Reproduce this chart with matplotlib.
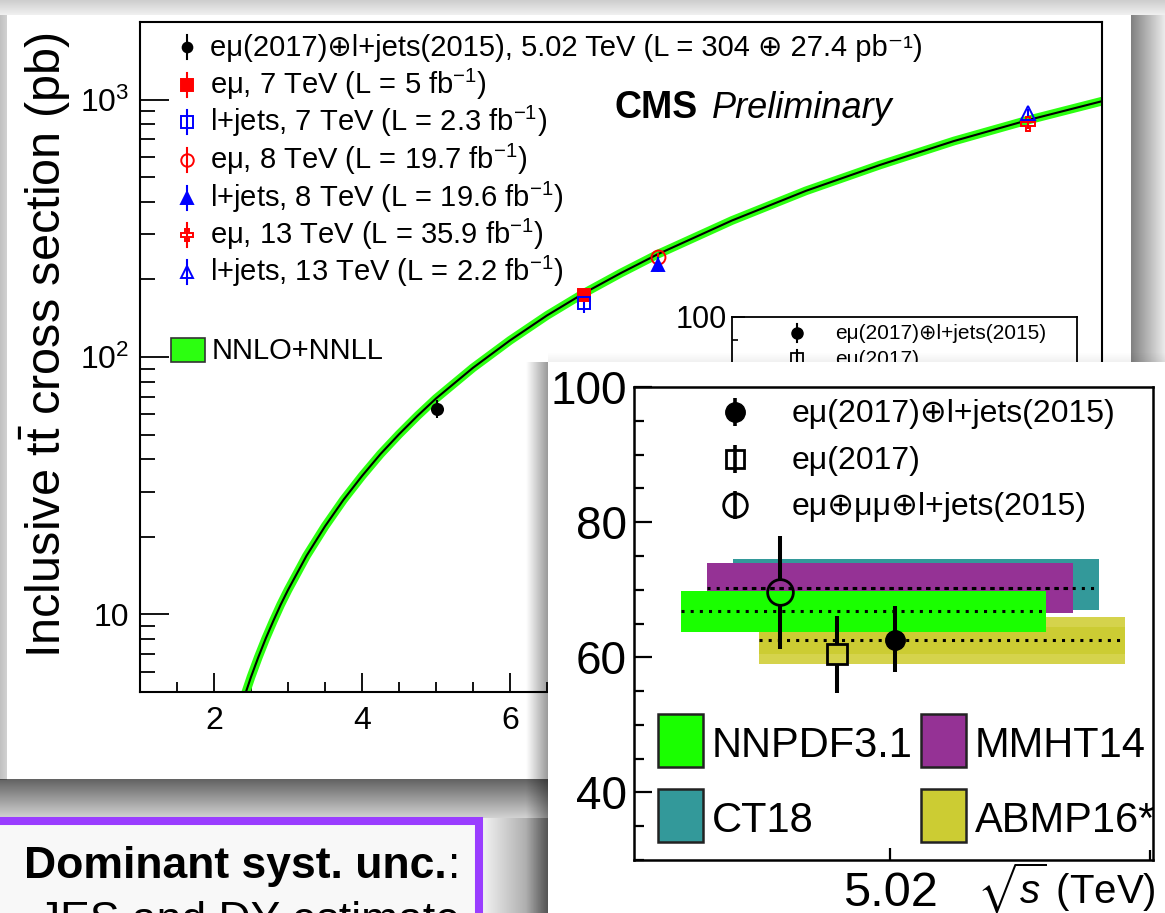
import numpy as np
import matplotlib
matplotlib.use("Agg")
import matplotlib.pyplot as plt
from matplotlib.patches import Rectangle
from matplotlib.ticker import FixedLocator, FixedFormatter, MultipleLocator, NullFormatter

plt.rcParams['font.family'] = ['Liberation Sans', 'DejaVu Sans']
plt.rcParams['mathtext.fontset'] = 'custom'
plt.rcParams['mathtext.rm'] = 'Liberation Sans'
plt.rcParams['mathtext.it'] = 'Liberation Sans:italic'
plt.rcParams['mathtext.bf'] = 'Liberation Sans:bold'
plt.rcParams['mathtext.fallback'] = 'stixsans'

# ---------------- data ----------------
# NNLO+NNLL prediction (sqrt(s) in TeV, sigma in pb)
theory_sqrts = [2.4, 2.5, 2.6, 2.7, 2.8, 2.9, 3.0, 3.25, 3.5, 3.75, 4.0, 4.25, 4.5, 4.75,
                5.0, 5.5, 6.0, 6.5, 7.0, 7.5, 8.0, 9.0, 10.0, 11.0, 12.0, 13.0, 14.0]
theory_xsec = [4.70, 5.72, 6.84, 8.08, 9.42, 10.9, 12.45, 16.9, 22.0, 27.9, 34.5, 42.0, 50.1,
               59.1, 69.0, 90.8, 116.0, 145.0, 177.0, 212.0, 251.0, 339.0, 442.0, 557.0,
               690.0, 832.0, 985.0]

# CMS measurements
meas_labels = [
    'eμ(2017)⊕l+jets(2015), 5.02 TeV (L = 304 ⊕ 27.4 pb⁻¹)',
    'eμ, 7 TeV (L = 5 fb$^{-1}$)',
    'l+jets, 7 TeV (L = 2.3 fb$^{-1}$)',
    'eμ, 8 TeV (L = 19.7 fb$^{-1}$)',
    'l+jets, 8 TeV (L = 19.6 fb$^{-1}$)',
    'eμ, 13 TeV (L = 35.9 fb$^{-1}$)',
    'l+jets, 13 TeV (L = 2.2 fb$^{-1}$)',
]
meas_sqrts = [5.02, 7.0, 7.0, 8.0, 8.0, 13.0, 13.0]
meas_xsec = [63.0, 173.6, 161.7, 244.9, 228.5, 803.0, 888.0]
meas_err = [5.0, 7.0, 14.0, 9.0, 15.5, 32.0, 34.0]

# inset: 5.02 TeV measurements
inset_labels = ['eμ(2017)⊕l+jets(2015)', 'eμ(2017)', 'eμ⊕μμ⊕l+jets(2015)']
inset_x = [5.0209, 5.0098, 4.9988]
inset_y = [62.6, 60.5, 69.6]
inset_err_lo = [4.8, 5.8, 8.3]
inset_err_hi = [5.0, 5.6, 8.4]

# inset: predictions with different PDFs
pdf_names = ['CT18', 'MMHT14', 'ABMP16*', 'NNPDF3.1']
pdf_x0 = [4.9897, 4.9847, 4.9947, 4.9797]
pdf_x1 = [5.0602, 5.0552, 5.0652, 5.0499]
pdf_central = [70.3, 70.3, 62.5, 66.8]
pdf_lo = [67.0, 66.6, 59.0, 63.7]
pdf_hi = [74.5, 73.9, 66.0, 69.8]
abmp_inner = [60.5, 64.5]

# ---------------- figure ----------------
W, H = 1165, 913
fig = plt.figure(figsize=(W / 100, H / 100), dpi=100)
fig.patch.set_facecolor('white')


def rect(x0, y0, x1, y1):
    return [x0 / W, 1 - y1 / H, (x1 - x0) / W, (y1 - y0) / H]


def pix_axes(z):
    a = fig.add_axes([0, 0, 1, 1], zorder=z)
    a.set_xlim(0, W)
    a.set_ylim(H, 0)
    a.axis('off')
    a.patch.set_alpha(0)
    return a


def gradient(a, x0, x1, y0, y1, a0, a1, direction='h', z=1):
    n = 120
    al = np.linspace(a0, a1, n)
    if direction == 'h':
        img = np.zeros((1, n, 4))
        img[0, :, 3] = al
    else:
        img = np.zeros((n, 1, 4))
        img[:, 0, 3] = al
    a.imshow(img, extent=(x0, x1, y1, y0), origin='upper', aspect='auto',
             interpolation='bilinear', zorder=z)
    a.set_xlim(0, W)
    a.set_ylim(H, 0)


# background slide with card shadows
bg = pix_axes(0)
gradient(bg, 0, W, 0, 15, 0.20, 0.06, 'v')
gradient(bg, 0, 7, 15, 780, 0.25, 0.18, 'h')
gradient(bg, 1131, W, 15, 362, 0.50, 0.08, 'h')
gradient(bg, 0, 548, 779, 818, 0.62, 0.18, 'v')
gradient(bg, 482, 548, 818, H, 0.05, 0.45, 'h')
bg.add_patch(Rectangle((7, 15), 1124, 764, fc='white', ec='none', zorder=2))
bg.add_patch(Rectangle((-20, 821), 499, 140, fc='#f8f8f8', ec='#9a3dff', lw=5.8, zorder=3))
tb = bg.text(24, 878, 'Dominant syst. unc.', fontsize=32, fontweight='bold',
             ha='left', va='baseline', zorder=4)
fig.canvas.draw()
ext = tb.get_window_extent()
bg.text(ext.x1 + 1, 878, ':', fontsize=32, ha='left', va='baseline', zorder=4)
bg.text(249, 933, 'JES and DY estimate', fontsize=32, ha='center', va='baseline', zorder=4)

# ---------------- main plot ----------------
green = '#2cff10'
ax = fig.add_axes(rect(140, 22, 1102, 692), zorder=1)
ax.patch.set_alpha(0)
ax.set_yscale('log')
ax.set_xlim(1, 14)
ax.set_ylim(5, 2000)
for s in ax.spines.values():
    s.set_linewidth(1.5)
ax.yaxis.set_major_locator(FixedLocator([10, 100, 1000]))
ax.yaxis.set_major_formatter(FixedFormatter(['10', '$10^{2}$', '$10^{3}$']))
ax.yaxis.set_minor_locator(FixedLocator([d * m for d in (1, 10, 100, 1000)
                                         for m in range(2, 10) if 5 <= d * m <= 2000]))
ax.yaxis.set_minor_formatter(NullFormatter())
ax.xaxis.set_major_locator(MultipleLocator(2))
ax.xaxis.set_minor_locator(MultipleLocator(0.5))
ax.tick_params(axis='y', which='major', direction='in', length=21, width=1.3, labelsize=23, pad=8)
ax.tick_params(axis='y', which='minor', direction='in', length=10.5, width=1.3)
ax.tick_params(axis='x', which='major', direction='in', length=14, width=1.3, labelsize=23, pad=10)
ax.tick_params(axis='x', which='minor', direction='in', length=7, width=1.3)

ax.plot(theory_sqrts, theory_xsec, color=green, lw=6.3, solid_capstyle='butt',
        solid_joinstyle='round', zorder=2)
ax.plot(theory_sqrts, theory_xsec, color='black', lw=1.5, solid_joinstyle='round', zorder=3)

styles = [
    dict(marker='o', color='black', mfc='black', ms=8),
    dict(marker='s', color='red', mfc='red', ms=9),
    dict(marker='s', color='blue', mfc='none', ms=9),
    dict(marker='o', color='red', mfc='none', ms=10),
    dict(marker='^', color='blue', mfc='blue', ms=9),
    dict(marker='P', color='red', mfc='none', ms=10),
    dict(marker='^', color='blue', mfc='none', ms=10),
]
for xv, yv, ev, st in zip(meas_sqrts, meas_xsec, meas_err, styles):
    ax.errorbar([xv], [yv], yerr=[ev], fmt=st['marker'], color=st['color'], mfc=st['mfc'],
                mec=st['color'], ms=st['ms'], mew=1.4, elinewidth=1.5, capsize=0, zorder=4)

# main legend and labels (pixel overlay)
ov1 = pix_axes(1.5)
row_y = [47, 85, 122, 160, 198, 235, 272]
for yy, lab, st in zip(row_y, meas_labels, styles):
    ov1.plot([187, 187], [yy - 12, yy + 12], color=st['color'], lw=1.5)
    ov1.plot([187], [yy], marker=st['marker'], color=st['color'], mfc=st['mfc'],
             mec=st['color'], ms=st['ms'] - 1, mew=1.4)
    ov1.text(210, yy + 9, lab, fontsize=21, va='baseline', ha='left')
ov1.add_patch(Rectangle((171, 338), 34, 24, fc=green, ec='#333333', lw=1.2))
ov1.text(212, 359, 'NNLO+NNLL', fontsize=21, va='baseline')
ov1.text(614, 118, 'CMS', fontsize=27, fontweight='bold', va='baseline')
ov1.text(712, 118, 'Preliminary', fontsize=26, style='italic', va='baseline')
ov1.text(45, 345, r'Inclusive t$\bar{\mathrm{t}}$ cross section (pb)', fontsize=35,
         rotation=90, ha='center', va='center')

# small (hidden) inset inside main plot
ax2 = fig.add_axes(rect(732, 317, 1077, 639), zorder=2)
ax2.patch.set_facecolor('white')
ax2.set_xlim(4.9706, 5.0706)
ax2.set_ylim(30, 100)
for s in ax2.spines.values():
    s.set_linewidth(1.3)
ax2.set_xticks([])
ax2.yaxis.set_major_locator(FixedLocator([40, 60, 80, 100]))
ax2.yaxis.set_major_formatter(FixedFormatter(['40', '60', '80', '100']))
ax2.yaxis.set_minor_locator(MultipleLocator(5))
ax2.tick_params(axis='y', which='major', direction='in', length=9, width=1.2, labelsize=22, pad=4)
ax2.tick_params(axis='y', which='minor', direction='in', length=4.5, width=1.2)
ov2 = pix_axes(2.5)
ov2.plot([797, 797], [324, 342], color='black', lw=1.5)
ov2.plot([797], [333], 'o', color='black', ms=8)
ov2.text(835, 339, inset_labels[0], fontsize=15, va='baseline')
ov2.plot([797, 797], [350, 368], color='black', lw=1.5)
ov2.plot([797], [359], 's', color='black', mfc='none', ms=8, mew=1.3)
ov2.text(835, 365, inset_labels[1], fontsize=15, va='baseline')

# ---------------- big inset card ----------------
card = pix_axes(3)
gradient(card, 526, 548, 362, H, 0.0, 0.40, 'h', z=1)
gradient(card, 548, W, 352, 362, 0.0, 0.06, 'v', z=1)
card.add_patch(Rectangle((548, 362), W - 548 + 5, H - 362 + 5, fc='white', ec='none', zorder=2))

axi = fig.add_axes(rect(634, 387, 1153, 860), zorder=4)
axi.patch.set_alpha(0)
axi.set_xlim(4.9706, 5.0706)
axi.set_ylim(30, 100)
for s in axi.spines.values():
    s.set_linewidth(1.8)
axi.yaxis.set_major_locator(FixedLocator([40, 60, 80, 100]))
axi.yaxis.set_major_formatter(FixedFormatter(['40', '60', '80', '100']))
axi.yaxis.set_minor_locator(MultipleLocator(5))
axi.xaxis.set_major_locator(FixedLocator([5.02]))
axi.xaxis.set_major_formatter(FixedFormatter(['5.02']))
axi.xaxis.set_minor_locator(FixedLocator([5.07]))
axi.tick_params(axis='y', which='major', direction='in', length=13, width=1.6, labelsize=33, pad=5)
axi.tick_params(axis='y', which='minor', direction='in', length=7, width=1.6)
axi.tick_params(axis='x', which='major', direction='in', length=9, width=1.6, labelsize=35, pad=8)
axi.tick_params(axis='x', which='minor', direction='in', length=7, width=1.6)

pdf_colors = {'CT18': '#33999a', 'MMHT14': '#953295', 'ABMP16*': '#d5d34c', 'NNPDF3.1': '#1aff00'}
for name, x0, x1, c, lo, hi in zip(pdf_names, pdf_x0, pdf_x1, pdf_central, pdf_lo, pdf_hi):
    axi.fill_between([x0, x1], [lo, lo], [hi, hi], color=pdf_colors[name], lw=0, zorder=1)
    if name == 'ABMP16*':
        axi.fill_between([x0, x1], [abmp_inner[0]] * 2, [abmp_inner[1]] * 2,
                         color='#cccc33', lw=0, zorder=1)
for name, x0, x1, c in zip(pdf_names, pdf_x0, pdf_x1, pdf_central):
    axi.plot([x0, x1], [c, c], color='black', lw=2.2, ls=(0, (1, 2)),
             dash_capstyle='butt', zorder=2)

# data points in inset
px_per_unit = (860 - 387) / 70.0
ims = [14, 14, 18.5]
imark = ['o', 's', 'o']
for i in range(3):
    xv, yv = inset_x[i], inset_y[i]
    if i == 0:
        axi.plot([xv, xv], [yv - inset_err_lo[i], yv + inset_err_hi[i]], color='black',
                 lw=2.9, zorder=5, solid_capstyle='butt')
        axi.plot([xv], [yv], 'o', color='black', ms=ims[i], zorder=6)
    else:
        r = ims[i] * 100 / 72 / 2 / px_per_unit
        axi.plot([xv, xv], [yv - inset_err_lo[i], yv - r], color='black', lw=2.9,
                 zorder=5, solid_capstyle='butt')
        axi.plot([xv, xv], [yv + r, yv + inset_err_hi[i]], color='black', lw=2.9,
                 zorder=5, solid_capstyle='butt')
        axi.plot([xv], [yv], imark[i], color='black', mfc='none', mew=2.0, ms=ims[i], zorder=6)

ov3 = pix_axes(5)
leg_y = [412, 459, 505]
for k, yy in enumerate(leg_y):
    ov3.plot([735, 735], [yy - 14, yy + 14], color='black', lw=2.6, solid_capstyle='butt')
    if k == 0:
        ov3.plot([735], [yy], 'o', color='black', ms=14)
    elif k == 1:
        ov3.plot([735], [yy], 's', color='black', mfc='none', mew=2, ms=13)
    else:
        ov3.plot([735], [yy], 'o', color='black', mfc='none', mew=2, ms=17)
    ov3.text(792, yy + 10, inset_labels[k], fontsize=23, va='baseline')

box_pos = {'NNPDF3.1': (658, 714), 'MMHT14': (921, 714), 'CT18': (658, 789), 'ABMP16*': (921, 789)}
box_col = {'NNPDF3.1': '#1aff00', 'MMHT14': '#953295', 'CT18': '#33999a', 'ABMP16*': '#cccc33'}
for name in ['NNPDF3.1', 'MMHT14', 'CT18', 'ABMP16*']:
    bx, by = box_pos[name]
    ov3.add_patch(Rectangle((bx, by), 45, 53, fc=box_col[name], ec='#222222', lw=1.8))
    ov3.text(bx + 54, by + 43, name, fontsize=30, va='baseline')
ov3.text(1156, 904, r'$\sqrt{s}$ (TeV)', fontsize=29, ha='right', va='baseline')

fig.savefig('out.png', dpi=100)
